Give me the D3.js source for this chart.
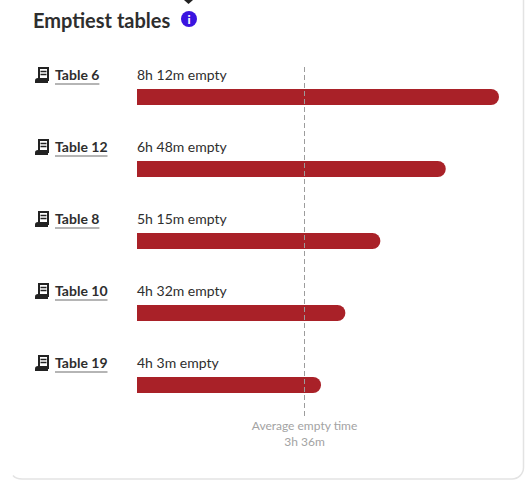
<!DOCTYPE html>
<html><head><meta charset="utf-8">
<script src="https://cdnjs.cloudflare.com/ajax/libs/d3/7.8.5/d3.min.js"></script>
<style>html,body{margin:0;padding:0;background:#fff}svg{display:block}text{font-family:Lato,sans-serif}</style>
</head><body><div id="c"></div>
<script>
const tables = ["Table 6","Table 12","Table 8","Table 10","Table 19"];
const emptyLabels = ["8h 12m empty","6h 48m empty","5h 15m empty","4h 32m empty","4h 3m empty"];
const barValues = [476,406,320,274,242];
const averageValue = 220;
const averageLabels = ["Average empty time","3h 36m"];
const title = "Emptiest tables";

const W=526,H=481;
const svg=d3.select("#c").append("svg").attr("width",W).attr("height",H);
svg.append("path").attr("d","M13,475.5Q16,479 22,479H512a11.5,11.5 0 0 0 11.5,-11.5V-5").attr("fill","none").attr("stroke","#e3e3e3").attr("stroke-width",1.5);
svg.append("path").attr("d","M184,0h9l-4.5,4z").attr("fill","#222");
svg.append("text").attr("x",33).attr("y",28).attr("font-size",20).attr("font-weight",700).attr("fill","#2e2e2e").text(title);
const info=svg.append("g").attr("transform","translate(189,19)");
info.append("circle").attr("r",8).attr("fill","#3a14e0");
info.append("text").attr("text-anchor","middle").attr("y",4.5).attr("font-size",12).attr("font-weight",900).attr("fill","#fff").text("i");

const x=d3.scaleLinear().domain([0,476]).range([137,499]);
const y=d3.scaleBand().domain(tables).range([61,421]).padding(0);
const row=svg.selectAll("g.row").data(tables).join("g").attr("class","row").attr("transform",d=>`translate(0,${y(d)})`);
const h=16;
row.append("path").attr("d",(d,i)=>{const x1=x(barValues[i]),r=h/2;return `M${x(0)},28H${x1-r}a${r},${r} 0 0 1 0,${h}H${x(0)}Z`}).attr("fill","#a92128");
const ic=row.append("g").attr("transform","translate(35,6)");
ic.append("path").attr("d","M4,1H13V13H4Z").attr("fill","#fff").attr("stroke","#222").attr("stroke-width",2);
ic.append("path").attr("d","M5.5,4.5H11.5M5.5,7.5H11.5").attr("stroke","#222").attr("stroke-width",1.6);
ic.append("path").attr("d","M0,16V13.5Q0,11 3,11H13V16Z").attr("fill","#222");
row.append("text").attr("x",55).attr("y",19).attr("font-size",14).attr("font-weight",700).attr("fill","#2e2e2e").text(d=>d);
row.each(function(){const g=d3.select(this),t=g.select("text:last-of-type");const w=t.node().getComputedTextLength();g.append("rect").attr("x",55).attr("y",22).attr("width",w).attr("height",2).attr("fill","#b5b5b5");});
row.append("text").attr("x",137).attr("y",19).attr("font-size",14).attr("fill","#2e2e2e").text((d,i)=>emptyLabels[i]);

const ax=Math.floor(x(averageValue))+0.5;
svg.append("line").attr("x1",ax).attr("x2",ax).attr("y1",67).attr("y2",417).attr("stroke","#9c9c9c").attr("stroke-width",1).attr("stroke-dasharray","5 3");
svg.selectAll("text.avg").data(averageLabels).join("text").attr("class","avg").attr("x",ax).attr("y",(d,i)=>430+i*16).attr("text-anchor","middle").attr("font-size",12).attr("fill","#a3a3a3").text(d=>d);
</script></body></html>
